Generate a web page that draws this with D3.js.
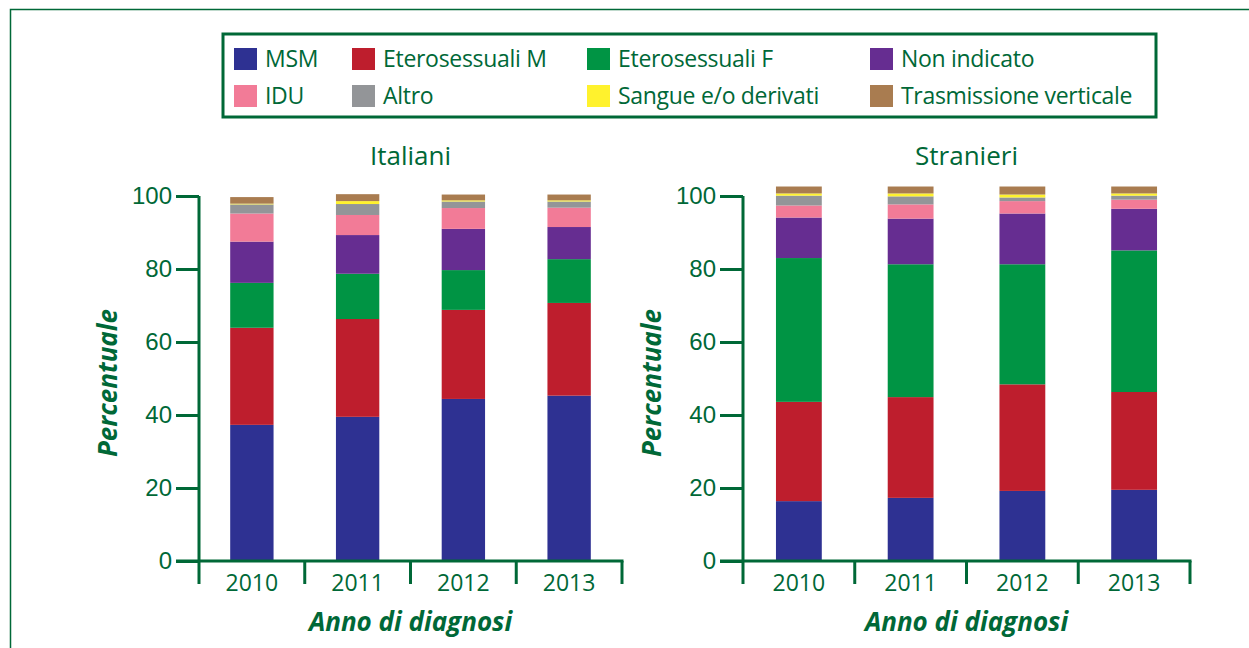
<!DOCTYPE html>
<html>
<head>
<meta charset="utf-8">
<script src="https://cdn.jsdelivr.net/npm/d3@7"></script>
<style>
  body { margin: 0; background: #fff; }
  svg { display: block; font-family: "Open Sans", "Noto Sans", sans-serif; }
</style>
</head>
<body>
<svg id="chart" width="1249" height="648"></svg>
<script>
// DATA
const years = ["2010", "2011", "2012", "2013"];
const categories = ["MSM", "Eterosessuali M", "Eterosessuali F", "Non indicato",
  "IDU", "Altro", "Sangue e/o derivati", "Trasmissione verticale"];
const colors = ["#2e3192", "#be1e2d", "#009444", "#662d91",
  "#f27b97", "#939598", "#fff22d", "#a97c50"];
const yTicks = [0, 20, 40, 60, 80, 100];

// one row per year, one value per category (percent)
const italiani = [
  [37.3, 26.6, 12.3, 11.3, 7.7, 2.5, 0.2, 1.8],
  [39.5, 26.8, 12.4, 10.6, 5.5, 3.0, 0.8, 1.9],
  [44.4, 24.4, 10.9, 11.3, 5.7, 1.8, 0.3, 1.6],
  [45.3, 25.4, 12.0, 8.8, 5.3, 1.7, 0.3, 1.6]
];
const stranieri = [
  [16.4, 27.2, 39.4, 11.1, 3.3, 2.7, 0.6, 1.9],
  [17.3, 27.6, 36.4, 12.5, 3.9, 2.2, 0.8, 1.9],
  [19.2, 29.2, 32.9, 13.9, 3.4, 1.0, 0.8, 2.2],
  [19.5, 26.8, 38.8, 11.4, 2.5, 1.1, 0.6, 1.9]
];

const green = "#006837";
const svg = d3.select("#chart");

// outer frame
svg.append("path")
  .attr("d", "M10.5,648 V9.5 H1249")
  .attr("fill", "none")
  .attr("stroke", green)
  .attr("stroke-width", 1.5);

// LEGEND
svg.append("rect")
  .attr("x", 223).attr("y", 34)
  .attr("width", 933).attr("height", 83)
  .attr("fill", "#fff")
  .attr("stroke", green)
  .attr("stroke-width", 3);

const legendCols = [234, 352, 587, 870];
const legendRows = [48, 85];
const legend = svg.append("g")
  .selectAll("g")
  .data(categories)
  .join("g")
    .attr("transform", (d, i) => `translate(${legendCols[i % 4]},${legendRows[Math.floor(i / 4)]})`);
legend.append("rect")
  .attr("width", 23).attr("height", 22)
  .attr("fill", (d, i) => colors[i]);
legend.append("text")
  .attr("x", 31).attr("y", 11)
  .attr("dy", "0.35em")
  .attr("fill", green)
  .attr("font-size", 23)
  .attr("letter-spacing", -0.3)
  .text(d => d);

// PANELS
function drawPanel(rows, title, x0, x1) {
  const x = d3.scaleBand().domain(years).range([x0, x1]).paddingInner(0.59).paddingOuter(0.295);
  const y = d3.scaleLinear().domain([0, 100]).range([561, 196]);
  const band = d3.scaleBand().domain(years).range([x0, x1]);

  const table = rows.map((r, i) => {
    const o = { year: years[i] };
    categories.forEach((c, j) => o[c] = r[j]);
    return o;
  });
  const series = d3.stack().keys(categories)(table);

  const g = svg.append("g");

  g.append("g")
    .selectAll("g")
    .data(series)
    .join("g")
      .attr("fill", (d, i) => colors[i])
    .selectAll("rect")
    .data(d => d)
    .join("rect")
      .attr("x", d => x(d.data.year))
      .attr("width", x.bandwidth())
      .attr("y", d => y(d[1]))
      .attr("height", d => y(d[0]) - y(d[1]));

  // y axis
  const yAxis = g.append("g")
    .attr("transform", `translate(${x0},0)`)
    .call(d3.axisLeft(y).tickValues(yTicks).tickSize(23).tickPadding(4));
  yAxis.select(".domain").remove();
  yAxis.selectAll("line").attr("stroke", green).attr("stroke-width", 3);
  yAxis.selectAll("text").attr("fill", green).attr("font-size", 24).attr("font-family", null);
  g.append("line")
    .attr("x1", x0).attr("x2", x0)
    .attr("y1", 196).attr("y2", 584)
    .attr("stroke", green).attr("stroke-width", 3);

  // x axis
  g.append("line")
    .attr("x1", x0 - 23).attr("x2", x1 + 1.5)
    .attr("y1", 561).attr("y2", 561)
    .attr("stroke", green).attr("stroke-width", 3);
  g.append("g")
    .selectAll("line")
    .data(years)
    .join("line")
      .attr("x1", d => band(d) + band.bandwidth())
      .attr("x2", d => band(d) + band.bandwidth())
      .attr("y1", 561).attr("y2", 584)
      .attr("stroke", green).attr("stroke-width", 3);
  g.append("g")
    .selectAll("text")
    .data(years)
    .join("text")
      .attr("x", d => band(d) + band.bandwidth() / 2)
      .attr("y", 583)
      .attr("dy", "0.35em")
      .attr("text-anchor", "middle")
      .attr("fill", green)
      .attr("font-size", 23)
      .text(d => d);

  // titles
  const cx = (x0 + x1) / 2;
  g.append("text")
    .attr("x", cx).attr("y", 156)
    .attr("dy", "0.35em")
    .attr("text-anchor", "middle")
    .attr("fill", green)
    .attr("font-size", 26)
    .text(title);
  g.append("text")
    .attr("x", cx).attr("y", 622)
    .attr("dy", "0.35em")
    .attr("text-anchor", "middle")
    .attr("fill", green)
    .attr("font-size", 26)
    .attr("font-weight", "bold")
    .attr("font-style", "italic")
    .text("Anno di diagnosi");
  g.append("text")
    .attr("transform", `translate(${x0 - 91},${383}) rotate(-90)`)
    .attr("dy", "0.35em")
    .attr("text-anchor", "middle")
    .attr("fill", green)
    .attr("font-size", 26)
    .attr("font-weight", "bold")
    .attr("font-style", "italic")
    .text("Percentuale");
}

drawPanel(italiani, "Italiani", 199, 622);
drawPanel(stranieri, "Stranieri", 743, 1190);
</script>
</body>
</html>
